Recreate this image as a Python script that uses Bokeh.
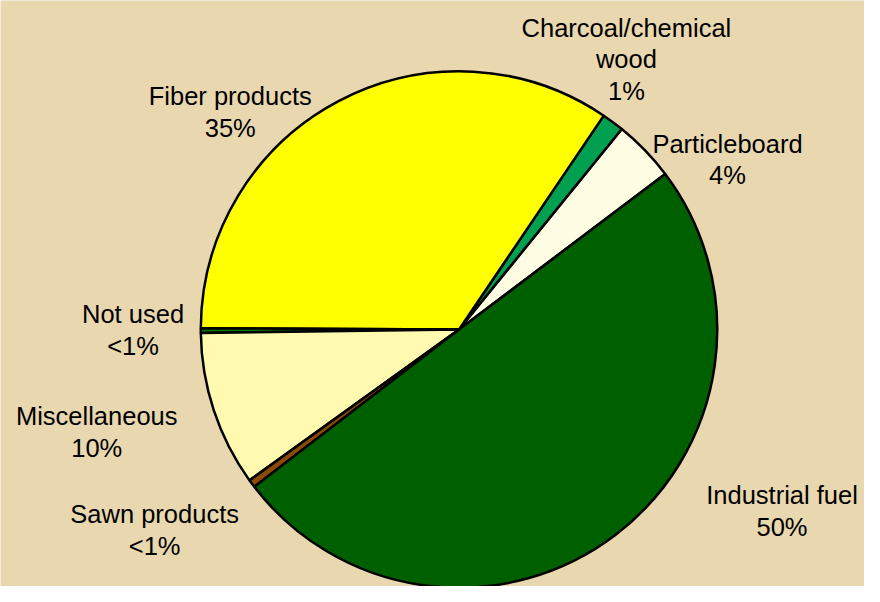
import math
from bokeh.plotting import figure
from bokeh.models import Range1d, ColumnDataSource
from bokeh.core.properties import value
from bokeh.embed import file_html
from bokeh.resources import INLINE

# ---- data (anticlockwise order, starting at the Particleboard/Industrial boundary) ----
categories = ["Particleboard", "Charcoal/chemical wood", "Fiber products", "Not used",
              "Miscellaneous", "Sawn products", "Industrial fuel"]
shares = [3.9, 1.4, 34.7, 0.3, 9.8, 0.5, 50.3]
pct_labels = ["4%", "1%", "35%", "<1%", "10%", "<1%", "50%"]
name_lines = [["Particleboard"], ["Charcoal/chemical", "wood"], ["Fiber products"], ["Not used"],
              ["Miscellaneous"], ["Sawn products"], ["Industrial fuel"]]

# ---- styles / layout ----
colors = ["#FFFDE4", "#00A050", "#FFFF00", "#007A00", "#FFFAB0", "#8B4A06", "#006000"]
bg = "#E9D7AF"
start_deg = 37.0
W, H = 864, 586
cx, cy, R = 467, 338, 263          # pie centre / radius in reference pixels (y down)
label_x = [740.5, 637.5, 234, 135, 98, 157, 796]
label_first_baseline = [147, 28, 98, 322, 427, 528, 508]
line_gap = 32.5

def Y(y):  # reference y (down) -> data y (up)
    return 602 - y

total = sum(shares)
starts, ends = [], []
a = math.radians(start_deg)
for s in shares:
    starts.append(a)
    a += s / total * 2 * math.pi
    ends.append(a)

p = figure(width=W, height=H, x_range=Range1d(0, 880), y_range=Range1d(0, 602),
           output_backend="svg", toolbar_location=None, tools="", min_border=0)
p.axis.visible = False
p.grid.visible = False
p.outline_line_color = None
p.background_fill_color = bg
p.border_fill_color = bg

src = ColumnDataSource(dict(cat=categories, start=starts, end=ends, color=colors))
p.wedge(x=cx, y=Y(cy), radius=R, start_angle="start", end_angle="end",
        fill_color="color", line_color="black", line_width=2.5, source=src)

tx, ty, tt = [], [], []
for i, lines in enumerate(name_lines):
    all_lines = lines + [pct_labels[i]]
    for j, t in enumerate(all_lines):
        tx.append(label_x[i])
        ty.append(Y(label_first_baseline[i] + j * line_gap))
        tt.append(t)

p.text(x=tx, y=ty, text=tt, text_font=value("Liberation Sans"), text_font_size="25.5px",
       text_align="center", text_baseline="alphabetic", text_color="black")

open("out.html", "w").write(file_html(p, INLINE))
